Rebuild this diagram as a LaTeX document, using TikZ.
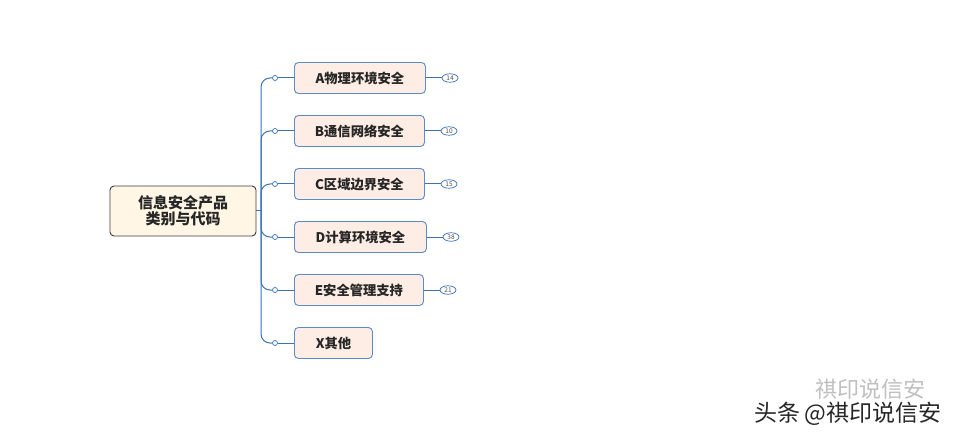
\documentclass[tikz,border=0pt]{standalone}
\usepackage{fontspec}
\setmainfont{Noto Sans CJK SC}
\usepackage{tikz}
\usetikzlibrary{positioning,shapes.geometric}
\definecolor{linkblue}{HTML}{3A72B8}
\definecolor{boxblue}{HTML}{5B8BC9}
\definecolor{peach}{HTML}{FDEDE5}
\definecolor{cream}{HTML}{FFF6E5}
\definecolor{rootgray}{HTML}{3C3C3C}
\tikzset{%
    rootbox/.style={draw=rootgray,fill=cream,rounded corners=4pt,line width=0.9pt,
        minimum width=146pt,minimum height=50pt,align=center,
        font=\fontsize{15}{15.5}\selectfont\bfseries,text=black!85},
    kindbox/.style={draw=boxblue,fill=peach,rounded corners=4pt,line width=0.9pt,
        minimum height=31pt,anchor=west,
        font=\fontsize{13.3}{14}\selectfont\bfseries,text=black!85},
    knot/.style={circle,draw=linkblue,fill=white,line width=0.7pt,inner sep=0pt,minimum size=5pt},
    badge/.style={ellipse,draw=linkblue,fill=white,line width=0.7pt,inner sep=0pt,
        minimum width=16pt,minimum height=8.5pt,font=\fontsize{6.5}{7}\selectfont,text=black!70},
    link/.style={draw=linkblue,line width=1pt}
}

\begin{document}
\begin{tikzpicture}[x=1pt,y=-1pt]
    \useasboundingbox (0,0) rectangle (962,441);

    \node[rootbox] (root) at (183,211) {信息安全产品\\类别与代码};
    \coordinate (trunk) at (261,211);
    \draw[link] (root.east)--(trunk);

    \node[kindbox,minimum width=131pt] (A) at (294,78) {A物理环境安全};
    \node[kindbox,minimum width=130pt] (B) at (294,131) {B通信网络安全};
    \node[kindbox,minimum width=130pt] (C) at (294,184) {C区域边界安全};
    \node[kindbox,minimum width=132pt] (D) at (294,237) {D计算环境安全};
    \node[kindbox,minimum width=129pt] (E) at (294,290) {E安全管理支持};
    \node[kindbox,minimum width=78pt] (X) at (294,343) {X其他};

    \node[knot] (kA) at (275,78) {};
    \node[knot] (kB) at (275,131) {};
    \node[knot] (kC) at (275,184) {};
    \node[knot] (kD) at (275,237) {};
    \node[knot] (kE) at (275,290) {};
    \node[knot] (kX) at (275,343) {};

    \draw[link,rounded corners=9pt] (trunk) |- (kA.west);
    \draw[link,rounded corners=9pt] (trunk) |- (kB.west);
    \draw[link,rounded corners=9pt] (trunk) |- (kC.west);
    \draw[link,rounded corners=9pt] (trunk) |- (kD.west);
    \draw[link,rounded corners=9pt] (trunk) |- (kE.west);
    \draw[link,rounded corners=9pt] (trunk) |- (kX.west);
    \draw[link] (kA)--(A) (kB)--(B) (kC)--(C) (kD)--(D) (kE)--(E) (kX)--(X);

    % counts
    \node[badge] (nA) at (450,78) {14};
    \node[badge] (nB) at (449,131) {10};
    \node[badge] (nC) at (449,184) {15};
    \node[badge] (nD) at (451,237) {38};
    \node[badge] (nE) at (448,290) {21};
    \draw[link] (A)--(nA) (B)--(nB) (C)--(nC) (D)--(nD) (E)--(nE);

    % watermark
    \node[text=black!25,font=\fontsize{22}{22}\selectfont,inner sep=0pt] (wm) at (870,389) {祺印说信安};
    \node[text=black!85,font=\fontsize{23}{24}\selectfont,inner sep=0pt] (tt) at (848,414) {头条\,@祺印说信安};
\end{tikzpicture}
\end{document}
